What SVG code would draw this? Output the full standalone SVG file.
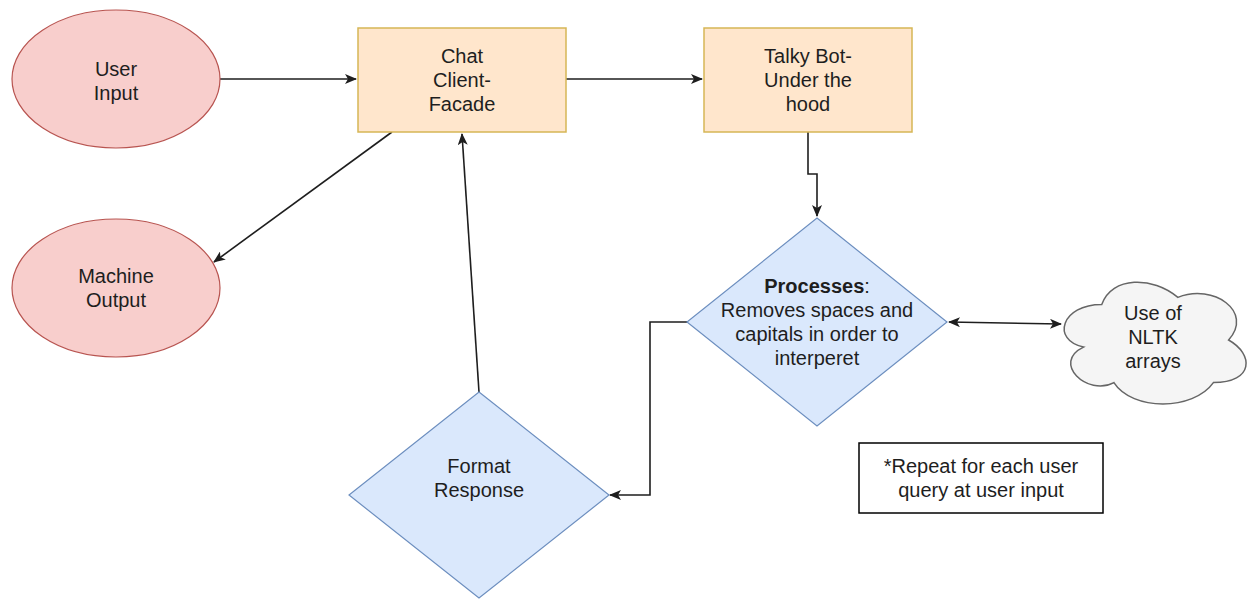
<svg xmlns="http://www.w3.org/2000/svg" width="1248" height="599" viewBox="0 0 1248 599">
<style>
text{font-family:"Liberation Sans",Arial,sans-serif;font-size:20px;fill:#1e1e1e;text-anchor:middle}
.ell{fill:#f8cecc;stroke:#b85450;stroke-width:1.2}
.box{fill:#ffe6cc;stroke:#d6b656;stroke-width:1.5}
.dia{fill:#dae8fc;stroke:#6c8ebf;stroke-width:1.2}
.cloud{fill:#f5f5f5;stroke:#666666;stroke-width:1.5}
.note{fill:#ffffff;stroke:#000000;stroke-width:1.5}
.edge{fill:none;stroke:#1e1e1e;stroke-width:1.6}
</style>
<defs>
<marker id="arr" viewBox="0 0 12 10" refX="11" refY="5" markerWidth="12" markerHeight="10" markerUnits="userSpaceOnUse" orient="auto-start-reverse">
<path d="M0,0 L12,5 L0,10 L3,5 Z" fill="#1e1e1e"/>
</marker>
</defs>
<rect width="1248" height="599" fill="#ffffff"/>
<g id="connectors">
<path class="edge" d="M220,79 L356,79" marker-end="url(#arr)"/>
<path class="edge" d="M566,79 L702,79" marker-end="url(#arr)"/>
<path class="edge" d="M808,132 L808,174 L817,174 L817,216" marker-end="url(#arr)"/>
<path class="edge" d="M392,132 L214,262" marker-end="url(#arr)"/>
<path class="edge" d="M479,392 L462,134" marker-end="url(#arr)"/>
<path class="edge" d="M687,322 L650,322 L650,495 L610,495" marker-end="url(#arr)"/>
<path class="edge" d="M949,322 L1061,324" marker-start="url(#arr)" marker-end="url(#arr)"/>
</g>
<g id="user-input">
<ellipse class="ell" cx="116" cy="79" rx="104" ry="69"/>
<text x="116" y="76">User</text>
<text x="116" y="100">Input</text>
</g>
<g id="chat-client">
<rect class="box" x="358" y="28" width="208" height="104"/>
<text x="462" y="63">Chat</text>
<text x="462" y="87">Client-</text>
<text x="462" y="111">Facade</text>
</g>
<g id="talky-bot">
<rect class="box" x="704" y="28" width="208" height="104"/>
<text x="808" y="63">Talky Bot-</text>
<text x="808" y="87">Under the</text>
<text x="808" y="111">hood</text>
</g>
<g id="machine-output">
<ellipse class="ell" cx="116" cy="288" rx="104" ry="69"/>
<text x="116" y="283">Machine</text>
<text x="116" y="307">Output</text>
</g>
<g id="processes">
<path class="dia" d="M817,218 L947,322 L817,426 L687,322 Z"/>
<text x="817" y="293"><tspan font-weight="bold">Processes</tspan>:</text>
<text x="817" y="317">Removes spaces and</text>
<text x="817" y="341">capitals in order to</text>
<text x="817" y="365">interperet</text>
</g>
<g id="format-response">
<path class="dia" d="M479,392 L609,495 L479,598 L349,495 Z"/>
<text x="479" y="473">Format</text>
<text x="479" y="497">Response</text>
</g>
<g id="nltk">
<path class="cloud" d="M1101.75,304.5 C1061.15,304.5 1051,340 1083.5,347.1 C1051,362.7 1087.5,396.8 1113.9,382.6 C1132.2,411 1193.1,411 1213.4,382.6 C1254,382.6 1254,354.2 1228.6,340 C1254,311.6 1213.4,283.2 1177.9,297.4 C1152.5,276.1 1111.9,276.1 1101.75,304.5 Z"/>
<text x="1153" y="320">Use of</text>
<text x="1153" y="344">NLTK</text>
<text x="1153" y="368">arrays</text>
</g>
<g id="note">
<rect class="note" x="859" y="443" width="244" height="70"/>
<text x="981" y="473">*Repeat for each user</text>
<text x="981" y="497">query at user input</text>
</g>
</svg>
